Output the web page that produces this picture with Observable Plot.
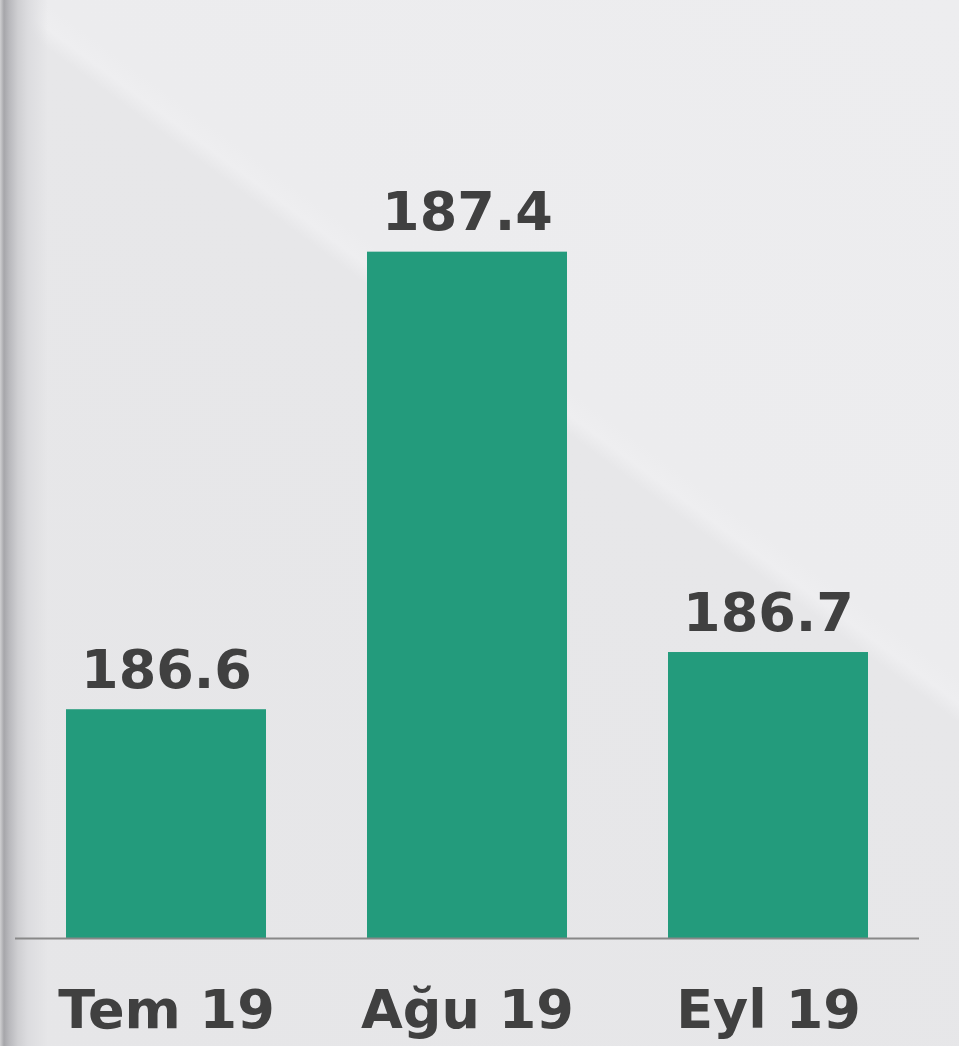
<!DOCTYPE html>
<html>
<head>
<meta charset="utf-8">
<script src="https://cdn.jsdelivr.net/npm/d3@7"></script>
<script src="https://cdn.jsdelivr.net/npm/@observablehq/plot@0.6"></script>
<style>
  html, body { margin: 0; padding: 0; }
  body {
    width: 959px; height: 1046px; overflow: hidden;
    background:
      linear-gradient(to right, #d0d0d2 0px, #a6a6aa 4px, #b8b8bc 9px, #cfcfd2 18px, #dcdcdf 28px, rgba(228,228,230,0) 48px),
      linear-gradient(36.5deg, #e6e6e8 0px, #e7e7e9 830px, #eeeef0 846px, #ececee 866px, #ededef 1411px);
  }
  #chart svg { display: block; }
</style>
</head>
<body>
<div id="chart"></div>
<script>
const months = ["Tem 19", "Ağu 19", "Eyl 19"];
const values = [186.6, 187.4, 186.7];
const yBase = 186.2;
const yTop = 187.84;

const data = months.map((m, i) => ({month: m, value: values[i]}));

const chart = Plot.plot({
  width: 959,
  height: 1046,
  marginLeft: 15,
  marginRight: 40,
  marginTop: 0,
  marginBottom: 108,
  style: {background: "transparent", fontFamily: "'DejaVu Sans', Verdana, sans-serif"},
  x: {domain: months, paddingInner: 0.3355, paddingOuter: 0.169, label: null},
  y: {domain: [yBase, yTop], axis: null},
  marks: [
    Plot.barY(data, {x: "month", y1: yBase, y2: "value", fill: "#239b7c"}),
    Plot.ruleY([yBase], {stroke: "#888888", strokeWidth: 2}),
    Plot.text(data, {x: "month", y: "value", text: d => d.value.toFixed(1), lineAnchor: "bottom", dy: -22,
      fontSize: 54, fontWeight: "bold", fill: "#404040"}),
    Plot.axisX({tickSize: 0, tickPadding: 51, fontSize: 54, fontWeight: "bold", color: "#404040", label: null})
  ]
});
document.getElementById("chart").appendChild(chart);
</script>
</body>
</html>
